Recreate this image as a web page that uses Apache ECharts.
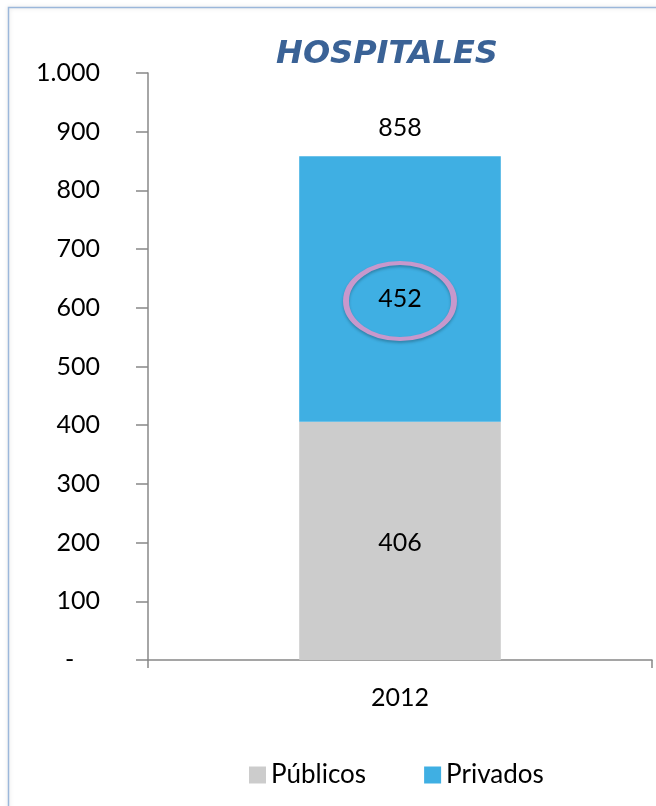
<!DOCTYPE html>
<html>
<head>
<meta charset="utf-8">
<script src="https://cdn.jsdelivr.net/npm/echarts@6/dist/echarts.min.js"></script>
<style>html,body{margin:0;padding:0;background:#fff}#c{width:656px;height:806px}</style>
</head>
<body>
<div id="c"></div>
<script>
const categories = ['2012'];
const publicos = [406];
const privados = [452];
const totals = [858];
const yTicks = [0, 100, 200, 300, 400, 500, 600, 700, 800, 900, 1000];
const seriesNames = ['Públicos', 'Privados'];

const FONT = 'Lato, "Open Sans", sans-serif';
const chart = echarts.init(document.getElementById('c'));

function fmt(v) {
  if (v === 0) return '-    ';
  return v >= 1000 ? (Math.floor(v / 1000) + '.' + String(v % 1000).padStart(3, '0')) : String(v);
}

chart.setOption({
  animation: false,
  backgroundColor: '#ffffff',
  title: {
    text: 'HOSPITALES',
    left: 382, top: 34, textAlign: 'center',
    textStyle: { fontFamily: '"DejaVu Sans", sans-serif', fontSize: 32, fontWeight: 'bold', fontStyle: 'italic', color: '#3A6296' }
  },
  graphic: [{
    type: 'rect', shape: { x: 8.5, y: 7.5, width: 660, height: 820 }, silent: true, z: -1,
    style: { fill: 'none', stroke: '#9BB7DA', lineWidth: 1.5, shadowBlur: 4, shadowColor: 'rgba(0,0,0,0.15)' }
  }],
  legend: {
    top: 757, left: 244, itemWidth: 17, itemHeight: 17, itemGap: 58,
    icon: 'rect',
    textStyle: { fontFamily: FONT, fontSize: 26, color: '#000' },
    data: seriesNames
  },
  grid: { left: 148, top: 73, right: 4, bottom: 146 },
  xAxis: {
    type: 'category', data: categories, boundaryGap: true,
    axisLine: { lineStyle: { color: '#888', width: 1.5 } },
    axisTick: { show: true, length: 8, lineStyle: { color: '#888', width: 1.5 } },
    axisLabel: { margin: 25, fontFamily: FONT, fontSize: 25, color: '#000' }
  },
  yAxis: {
    type: 'value', min: yTicks[0], max: yTicks[yTicks.length - 1], interval: 100,
    splitLine: { show: false },
    axisLine: { show: true, lineStyle: { color: '#888', width: 1.5 } },
    axisTick: { show: true, length: 12, lineStyle: { color: '#888', width: 1.5 } },
    axisLabel: { margin: 48, fontFamily: FONT, fontSize: 25, color: '#000', formatter: fmt }
  },
  series: [
    {
      name: seriesNames[0], type: 'bar', stack: 'a', data: publicos, barWidth: '40%',
      itemStyle: { color: '#CCCCCC' },
      label: { show: true, position: 'inside', offset: [0, 2], fontFamily: FONT, fontSize: 25, color: '#000' }
    },
    {
      name: seriesNames[1], type: 'bar', stack: 'a', data: privados, barWidth: '40%',
      itemStyle: { color: '#3FAFE3' },
      label: { show: true, position: 'inside', offset: [0, 10], fontFamily: FONT, fontSize: 25, color: '#000' },
      markPoint: {
        silent: true,
        symbol: 'circle', symbolSize: [108, 76], symbolOffset: [0, 12],
        itemStyle: { color: 'rgba(0,0,0,0)', borderColor: '#C898CC', borderWidth: 5,
          shadowBlur: 3, shadowOffsetY: 2, shadowColor: 'rgba(0,0,0,0.25)' },
        label: { show: false },
        data: [{ coord: [categories[0], publicos[0] + privados[0] / 2] }]
      }
    },
    {
      name: 'total', type: 'bar', stack: 'b', data: totals, barWidth: '40%', barGap: '-100%',
      itemStyle: { color: 'rgba(0,0,0,0)' }, silent: true, z: 0,
      label: { show: true, position: 'top', distance: 16, fontFamily: FONT, fontSize: 25, color: '#000' }
    }
  ]
});
</script>
</body>
</html>
